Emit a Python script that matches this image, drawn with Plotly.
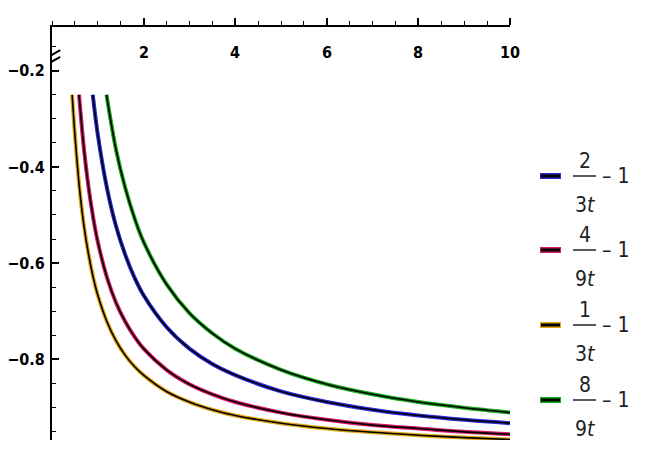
import plotly.graph_objects as go

# values
x_a = [0.89, 1.0, 1.2, 1.4, 1.6, 1.8, 2.0, 2.5, 3.0, 3.5, 4.0, 5.0, 6.0, 7.0, 8.0, 9.0, 10.0]
y_a = [-0.25, -0.333, -0.444, -0.524, -0.583, -0.630, -0.667, -0.733, -0.778, -0.810,
       -0.833, -0.867, -0.889, -0.905, -0.917, -0.926, -0.933]

x_b = [0.59, 0.7, 0.8, 0.9, 1.0, 1.2, 1.4, 1.6, 1.8, 2.0, 2.5, 3.0, 3.5, 4.0, 5.0,
       6.0, 7.0, 8.0, 9.0, 10.0]
y_b = [-0.25, -0.365, -0.444, -0.506, -0.556, -0.630, -0.683, -0.722, -0.753, -0.778,
       -0.822, -0.852, -0.873, -0.889, -0.911, -0.926, -0.937, -0.944, -0.951, -0.956]

x_c = [0.44, 0.5, 0.6, 0.7, 0.8, 0.9, 1.0, 1.2, 1.4, 1.6, 1.8, 2.0, 2.5, 3.0, 3.5,
       4.0, 5.0, 6.0, 7.0, 8.0, 9.0, 10.0]
y_c = [-0.25, -0.333, -0.444, -0.524, -0.583, -0.630, -0.667, -0.722, -0.762, -0.792,
       -0.815, -0.833, -0.867, -0.889, -0.905, -0.917, -0.933, -0.944, -0.952, -0.958,
       -0.963, -0.967]

x_d = [1.19, 1.4, 1.6, 1.8, 2.0, 2.5, 3.0, 3.5, 4.0, 5.0, 6.0, 7.0, 8.0, 9.0, 10.0]
y_d = [-0.25, -0.365, -0.444, -0.506, -0.556, -0.644, -0.704, -0.746, -0.778, -0.822,
       -0.852, -0.873, -0.889, -0.901, -0.911]

numerators = ['2', '4', '1', '8']
denominators = ['3<i>t</i>', '9<i>t</i>', '3<i>t</i>', '9<i>t</i>']
colors = ['#2a2ad8', '#d81a6a', '#e0a818', '#1aa81a']

x_ticks = [2, 4, 6, 8, 10]
y_ticks = [-0.2, -0.4, -0.6, -0.8]
y_labels = ['\u22120.2', '\u22120.4', '\u22120.6', '\u22120.8']

series = [(x_a, y_a), (x_b, y_b), (x_c, y_c), (x_d, y_d)]

fig = go.Figure()

for (xs, ys), col in zip(series, colors):
    fig.add_trace(go.Scatter(x=xs, y=ys, mode='lines', line=dict(color=col, width=4, shape='spline'),
                             showlegend=False, hoverinfo='skip'))
    fig.add_trace(go.Scatter(x=xs, y=ys, mode='lines', line=dict(color='black', width=1.6, shape='spline'),
                             showlegend=False, hoverinfo='skip'))

tick_font = dict(family='DejaVu Sans Condensed, Liberation Sans Narrow, sans-serif', size=16,
                 color='black', weight='bold')

fig.update_xaxes(
    range=[0, 10], side='top', showline=True, linecolor='black', linewidth=2, automargin=False,
    showgrid=False, zeroline=False, ticks='outside', ticklen=7, tickwidth=1.5, tickcolor='black',
    tickvals=x_ticks, showticklabels=False,
    minor=dict(ticks='outside', dtick=0.5, tick0=0, ticklen=4, tickwidth=1.2, tickcolor='black'),
)
fig.update_yaxes(
    range=[-0.968, -0.109], showline=True, linecolor='black', linewidth=2, automargin=False,
    showgrid=False, zeroline=False, ticks='inside', ticklen=7, tickwidth=1.5, tickcolor='black',
    tickvals=y_ticks, ticktext=y_labels, tickfont=tick_font, ticklabelstandoff=2,
    minor=dict(ticks='inside', dtick=0.05, tick0=0, ticklen=4, tickwidth=1.2, tickcolor='black'),
)

# x tick labels sit below the top axis line
for v in x_ticks:
    fig.add_annotation(x=v, y=-0.163, text=str(v), showarrow=False, font=tick_font,
                       xanchor='center', yanchor='middle')

# axis break marks on the vertical axis
for y0 in [-0.166, -0.180]:
    fig.add_shape(type='line', x0=-0.15, x1=0.18, y0=y0 - 0.009, y1=y0 + 0.009,
                  line=dict(color='black', width=2), layer='above')

# legend drawn as fractions in paper coordinates (page pixel positions)
leg_font = dict(family='DejaVu Sans Condensed, Liberation Sans Narrow, sans-serif', size=21, color='#222')
row_y = [176, 250, 325, 400]
W, H = 656, 451          # page body has an 8px margin
ml, mt, pw, ph = 44, 19, 458, 413
off = 8

def px(xp):
    return (xp - off - ml) / pw

def py(yp):
    return 1 - (yp - off - mt) / ph

for yp, col, num, den in zip(row_y, colors, numerators, denominators):
    fig.add_shape(type='line', xref='paper', yref='paper', x0=px(540), x1=px(561), y0=py(yp), y1=py(yp),
                  line=dict(color=col, width=6))
    fig.add_shape(type='line', xref='paper', yref='paper', x0=px(541), x1=px(560), y0=py(yp), y1=py(yp),
                  line=dict(color='black', width=3))
    fig.add_shape(type='line', xref='paper', yref='paper', x0=px(573), x1=px(596), y0=py(yp), y1=py(yp),
                  line=dict(color='#222', width=1.5))
    fig.add_annotation(xref='paper', yref='paper', x=px(584.5), y=py(yp - 15), text=num, showarrow=False,
                       font=leg_font, xanchor='center', yanchor='middle')
    fig.add_annotation(xref='paper', yref='paper', x=px(584.5), y=py(yp + 29), text=den, showarrow=False,
                       font=leg_font, xanchor='center', yanchor='middle')
    fig.add_annotation(xref='paper', yref='paper', x=px(600), y=py(yp), text='\u2013 1', showarrow=False,
                       font=leg_font, xanchor='left', yanchor='middle')

fig.update_layout(
    width=W, height=H, margin=dict(l=ml, r=W - ml - pw, t=mt, b=H - mt - ph),
    plot_bgcolor='white', paper_bgcolor='white',
)

fig.write_html("out.html")
